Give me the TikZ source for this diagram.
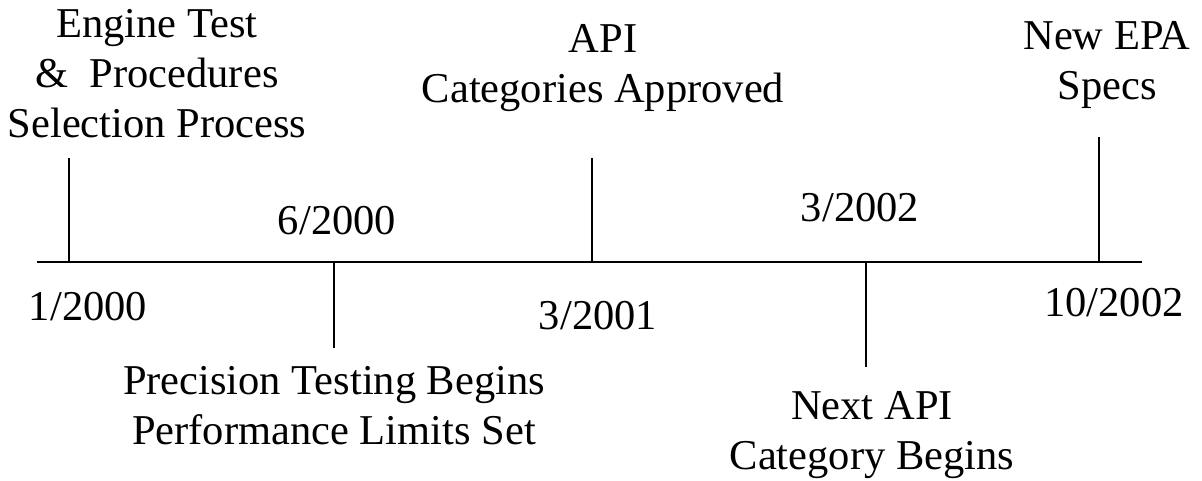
\documentclass[tikz,border=0pt]{standalone}
\usepackage{fontspec}
\setmainfont{Liberation Serif}
\begin{document}
\begin{tikzpicture}[x=1pt,y=-1pt,
  lbl/.style={inner sep=0pt,outer sep=0pt,anchor=base,align=center,
    font=\fontsize{42.5}{50}\selectfont},
  axis/.style={line width=2pt},
  tick/.style={line width=1.8pt}]
\useasboundingbox (0,0) rectangle (1202,481);
% axis
\coordinate (L) at (37,262);
\coordinate (R) at (1142,262);
\draw[axis] (L) -- (R);
% tick positions on the axis
\coordinate (a1) at (69,262);
\coordinate (a2) at (334,262);
\coordinate (a3) at (592,262);
\coordinate (a4) at (866,262);
\coordinate (a5) at (1099,262);
% free ends
\coordinate (e1) at (69,158);
\coordinate (e2) at (334,348);
\coordinate (e3) at (592,158);
\coordinate (e4) at (866,367);
\coordinate (e5) at (1099,137);
\draw[tick] (a1) -- (e1);
\draw[tick] (a2) -- (e2);
\draw[tick] (a3) -- (e3);
\draw[tick] (a4) -- (e4);
\draw[tick] (a5) -- (e5);
% event labels (anchor = baseline of last line)
\node[lbl] (ev1) at (157,138) {Engine Test\\\&\ \ Procedures\\Selection Process};
\node[lbl] (ev2) at (334,444) {Precision Testing Begins\\Performance Limits Set};
\node[lbl] (ev3) at (603,103) {API\\Categories Approved};
\node[lbl] (ev4) at (872,469) {Next API\\Category Begins};
\node[lbl] (ev5) at (1107,100) {New EPA\\Specs};
% dates
\node[lbl] (d1) at (88,320) {1/2000};
\node[lbl] (d2) at (337,235) {6/2000};
\node[lbl] (d3) at (598,329) {3/2001};
\node[lbl] (d4) at (860,222) {3/2002};
\node[lbl] (d5) at (1114,316) {10/2002};
\end{tikzpicture}
\end{document}
